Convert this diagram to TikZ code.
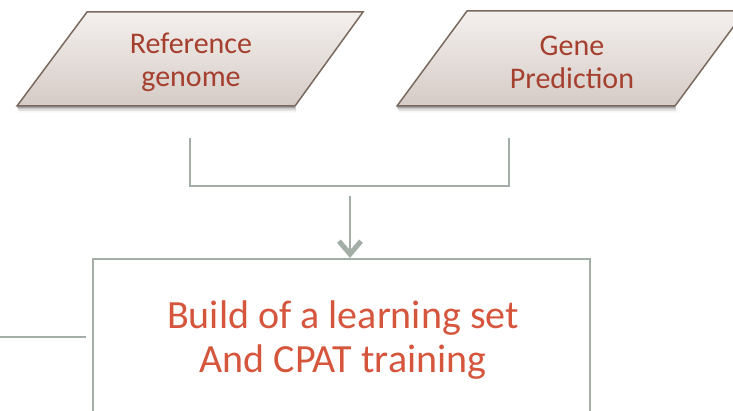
\documentclass[tikz,border=0pt]{standalone}
\usepackage{fontspec}
\setmainfont{Carlito}
\usetikzlibrary{arrows.meta}
\definecolor{parafillt}{HTML}{F4F0EE}
\definecolor{parafillb}{HTML}{D5CBC6}
\definecolor{paradraw}{HTML}{7A695E}
\definecolor{paratext}{HTML}{A53F2E}
\definecolor{boxtext}{HTML}{D5563D}
\definecolor{conn}{HTML}{A3AEA7}
\tikzset{
  x=1pt,y=-1pt,
  para/.style={top color=parafillt,bottom color=parafillb,draw=paradraw,line width=1.5pt,line join=miter},
  paralabel/.style={text=paratext,align=center,font=\fontsize{30}{33}\selectfont,inner sep=0pt},
  boxlabel/.style={text=boxtext,align=center,font=\fontsize{40}{44}\selectfont,inner sep=0pt},
  connector/.style={draw=conn,line width=2.2pt},
}
\begin{document}
\begin{tikzpicture}
\useasboundingbox (0,0) rectangle (733,411);
\clip (0,0) rectangle (733,411);
% shadows
\foreach \d/\o in {2/0.18,3.5/0.12,5/0.07,6.5/0.04}{
  \fill[black,opacity=\o] (17+\d*0.3,106+\d) -- (295+\d*0.3,106+\d) -- (295,106) -- (17,106) -- cycle;
  \fill[black,opacity=\o] (397+\d*0.3,106+\d) -- (675+\d*0.3,106+\d) -- (675,106) -- (397,106) -- cycle;
}
% parallelograms
\path[para] (87,12) -- (363,12) -- (295,106) -- (17,106) -- cycle;
\path[para] (467,11) -- (745,11) -- (675,106) -- (397,106) -- cycle;
\node[paralabel] (ref) at (191,62.5) {Reference\\genome};
\node[paralabel] (gene) at (572,62.5) {Gene\\Prediction};
% bracket connector
\coordinate (bl) at (190,138);
\coordinate (br) at (509,138);
\coordinate (bm) at (350,196);
\draw[connector] (bl) |- (br |- 0,186) -- (br);
% box
\draw[draw=conn,line width=2.2pt] (93,259) rectangle (590,430);
\coordinate (boxtop) at (350,258);
\node[boxlabel] (build) at (343,340) {Build of a learning set\\And CPAT training};
\draw[connector,-{Straight Barb[length=13pt,width=22pt,line width=5pt]}] (bm) -- (boxtop);
% left line
\coordinate (ll) at (0,337);
\coordinate (lr) at (86,337);
\draw[connector] (ll) -- (lr);
\end{tikzpicture}
\end{document}
